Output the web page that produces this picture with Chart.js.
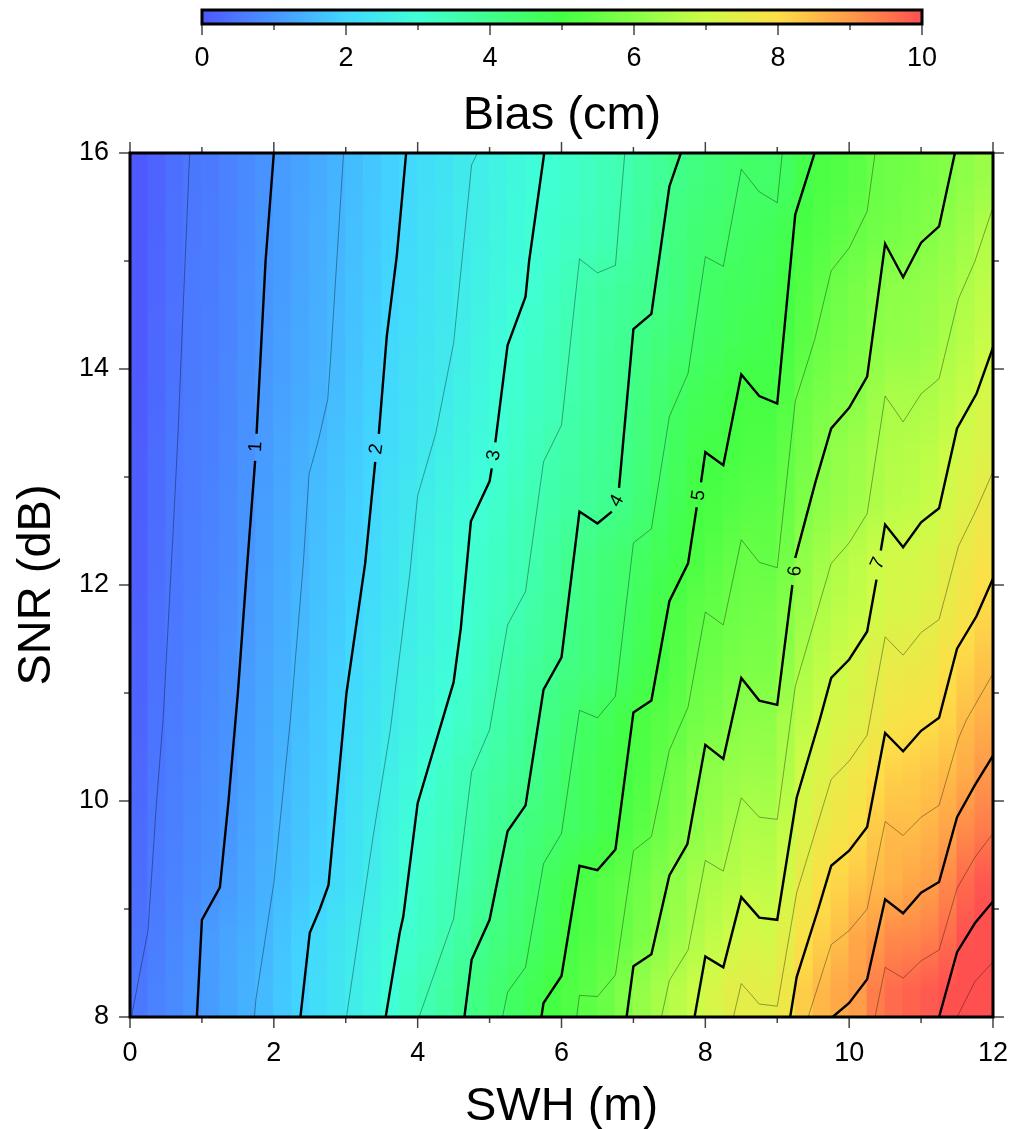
<!DOCTYPE html>
<html>
<head>
<meta charset="utf-8">
<title>Bias</title>
<script src="https://cdn.jsdelivr.net/npm/chart.js@4"></script>
<style>
  html, body { margin: 0; padding: 0; background: #fff; }
  canvas { position: absolute; left: 0; display: block; }
  #bar { top: 0; }
  #plot { top: 0; }
</style>
</head>
<body>
<canvas id="plot" width="1010" height="1129"></canvas>
<canvas id="bar" width="1010" height="140"></canvas>
<script>
// column centres (m), each cell is 0.25 wide
const swhCols = [0.125,0.375,0.625,0.875,1.125,1.375,1.625,1.875,2.125,2.375,2.625,2.875,
  3.125,3.375,3.625,3.875,4.125,4.375,4.625,4.875,5.125,5.375,5.625,5.875,
  6.125,6.375,6.625,6.875,7.125,7.375,7.625,7.875,8.125,8.375,8.625,8.875,
  9.125,9.375,9.625,9.875,10.125,10.375,10.625,10.875,11.125,11.375,11.625,11.875];

// bias (cm) per row
const row0825 = [.52,.67,.81,.96,1.11,1.26,1.41,1.57,1.77,1.96,2.15,2.35,2.55,2.78,3.0,3.25,3.48,3.7,3.93,4.16,4.39,4.6,4.8,5.0,5.18,5.35,5.56,5.9,6.18,6.45,6.71,6.97,7.2,7.42,7.48,7.45,7.7,8.25,8.56,8.8,8.97,9.4,9.63,9.75,9.87,10.01,10.41,10.7];
const row0875 = [.43,.6,.76,.92,1.08,1.23,1.35,1.49,1.7,1.91,2.1,2.29,2.47,2.67,2.9,3.1,3.27,3.47,3.7,3.96,4.2,4.35,4.54,4.78,5.03,5.18,5.33,5.54,5.8,6.07,6.32,6.58,6.8,7.02,7.18,7.1,7.4,7.87,8.2,8.47,8.8,8.98,9.23,9.25,9.36,9.62,9.97,10.2];
const row0925 = [.35,.54,.67,.8,.93,1.08,1.24,1.41,1.58,1.75,1.92,2.1,2.31,2.52,2.76,3.01,3.2,3.37,3.55,3.77,4.01,4.22,4.43,4.66,4.9,5.1,5.3,5.47,5.67,5.9,6.16,6.43,6.55,6.65,6.8,6.78,7.1,7.58,7.93,8.14,8.36,8.53,8.66,8.8,8.93,9.25,9.65,9.9];
const row0975 = [.3,.51,.65,.78,.88,1.02,1.2,1.36,1.53,1.7,1.86,2.03,2.25,2.47,2.7,2.93,3.13,3.3,3.48,3.68,3.88,4.07,4.25,4.4,4.55,4.7,4.88,5.1,5.33,5.6,5.85,6.09,6.25,6.47,6.58,6.56,6.85,7.25,7.6,7.77,7.93,8.3,8.52,8.5,8.62,8.85,9.2,9.4];
const row1025 = [.25,.48,.61,.73,.85,.97,1.14,1.31,1.47,1.65,1.81,1.98,2.18,2.38,2.59,2.8,3.0,3.2,3.4,3.58,3.74,3.88,4.05,4.28,4.5,4.66,4.83,4.99,5.16,5.43,5.71,5.97,6.1,6.23,6.32,6.3,6.58,7.07,7.3,7.55,7.75,7.97,8.2,8.25,8.38,8.52,8.75,9.05];
const row1075 = [.2,.45,.57,.69,.82,.94,1.1,1.26,1.43,1.6,1.77,1.93,2.11,2.3,2.49,2.67,2.84,3.02,3.2,3.38,3.57,3.76,3.95,4.14,4.36,4.55,4.72,4.94,5.1,5.27,5.43,5.7,5.82,6.0,6.07,6.1,6.45,6.75,7.05,7.25,7.38,7.6,7.83,7.93,7.97,8.15,8.5,8.68];
const row1125 = [.17,.42,.54,.66,.77,.9,1.06,1.22,1.39,1.55,1.71,1.87,2.05,2.23,2.42,2.59,2.74,2.89,3.06,3.27,3.48,3.64,3.8,3.96,4.12,4.25,4.38,4.57,4.8,5.03,5.26,5.51,5.6,5.75,5.85,5.83,6.1,6.55,6.78,6.97,7.2,7.43,7.58,7.62,7.7,7.93,8.15,8.4];
const row1175 = [.15,.39,.52,.63,.74,.86,1.02,1.18,1.35,1.51,1.66,1.82,1.98,2.15,2.33,2.51,2.67,2.83,3.0,3.15,3.31,3.46,3.65,3.83,4.03,4.18,4.34,4.49,4.7,4.92,5.15,5.38,5.48,5.6,5.67,5.73,5.97,6.28,6.58,6.75,6.88,7.08,7.21,7.28,7.4,7.6,7.83,8.07];
const row1225 = [.12,.36,.5,.6,.71,.83,.99,1.15,1.32,1.48,1.63,1.77,1.91,2.08,2.27,2.47,2.64,2.8,2.97,3.12,3.27,3.42,3.55,3.75,3.96,4.13,4.28,4.44,4.59,4.75,4.91,5.11,5.3,5.45,5.53,5.47,5.7,6.13,6.36,6.57,6.75,6.95,7.1,7.12,7.22,7.42,7.63,7.83];
const row1275 = [.1,.33,.5,.58,.68,.8,.96,1.12,1.28,1.44,1.6,1.73,1.87,2.02,2.22,2.4,2.58,2.73,2.87,3.02,3.17,3.32,3.47,3.6,3.72,3.84,3.94,4.1,4.33,4.55,4.78,4.99,5.07,5.2,5.3,5.33,5.52,5.87,6.1,6.24,6.4,6.55,6.72,6.77,6.9,7.13,7.35,7.6];
const row1325 = [.08,.3,.48,.57,.65,.77,.93,1.08,1.23,1.38,1.53,1.67,1.82,1.97,2.12,2.28,2.44,2.6,2.75,2.89,3.04,3.2,3.37,3.53,3.67,3.78,3.89,4.03,4.24,4.45,4.66,4.9,4.96,5.05,5.12,5.15,5.42,5.7,5.97,6.15,6.3,6.48,6.6,6.66,6.76,6.95,7.12,7.31];
const row1375 = [.05,.28,.45,.55,.63,.75,.91,1.04,1.17,1.3,1.43,1.58,1.75,1.91,2.07,2.22,2.35,2.48,2.65,2.8,2.95,3.1,3.25,3.38,3.55,3.68,3.82,3.97,4.17,4.38,4.58,4.72,4.82,4.95,5.03,4.99,5.2,5.58,5.78,5.92,6.03,6.3,6.5,6.47,6.53,6.72,6.92,7.15];
const row1425 = [.03,.25,.42,.54,.6,.73,.89,1.0,1.14,1.27,1.39,1.53,1.69,1.86,2.04,2.17,2.3,2.43,2.57,2.74,2.9,3.07,3.2,3.35,3.5,3.66,3.79,3.93,4.08,4.22,4.36,4.5,4.62,4.73,4.83,4.88,5.05,5.33,5.6,5.75,5.88,6.05,6.15,6.2,6.3,6.5,6.68,6.92];
const row1475 = [.02,.23,.41,.53,.58,.71,.86,.98,1.11,1.24,1.37,1.51,1.66,1.82,1.98,2.12,2.25,2.39,2.53,2.66,2.79,2.92,3.06,3.24,3.43,3.58,3.7,3.81,3.92,4.05,4.2,4.44,4.55,4.65,4.7,4.79,4.97,5.22,5.42,5.62,5.79,5.97,6.08,6.12,6.2,6.33,6.55,6.75];
const row1525 = [.02,.21,.39,.52,.57,.69,.83,.98,1.09,1.22,1.35,1.48,1.63,1.78,1.93,2.07,2.21,2.34,2.48,2.61,2.75,2.89,3.03,3.13,3.24,3.35,3.46,3.57,3.78,3.98,4.18,4.34,4.42,4.52,4.6,4.68,4.85,5.07,5.22,5.38,5.52,5.66,5.75,5.83,5.96,6.12,6.32,6.58];
const row1575 = [.01,.19,.37,.5,.55,.67,.81,.95,1.08,1.2,1.33,1.46,1.6,1.75,1.9,2.04,2.18,2.31,2.45,2.58,2.71,2.84,2.96,3.07,3.18,3.29,3.4,3.52,3.7,3.87,4.05,4.18,4.3,4.42,4.5,4.47,4.6,4.9,5.1,5.2,5.35,5.54,5.62,5.72,5.82,5.96,6.1,6.27];
const snrRows = [8.25,8.75,9.25,9.75,10.25,10.75,11.25,11.75,12.25,12.75,13.25,13.75,14.25,14.75,15.25,15.75];
const biasRows = [row0825,row0875,row0925,row0975,row1025,row1075,row1125,row1175,row1225,row1275,row1325,row1375,row1425,row1475,row1525,row1575];

// contours: [swh, snr], [null, null] leaves the gap around a label
const level05 = [[0.02,8],[0.25,8.8],[0.37,10],[0.46,10.75],[0.6,12.5],[0.67,13.43],[0.74,14.58],[0.83,16]];
const level10 = [[0.93,8],[1,8.9],[1.25,9.2],[1.37,10],[1.5,11],[1.62,12.1],[1.74,13.15],[null,null],[1.76,13.4],[1.885,15],[2,16]];
const level15 = [[1.73,8],[1.75,8.16],[2,9.24],[2.23,10.75],[2.41,12.2],[2.49,13.03],[2.62,13.34],[2.75,13.72],[2.79,14.1],[2.97,16]];
const level20 = [[2.37,8],[2.5,8.78],[2.64,9],[2.76,9.22],[2.87,10],[3.01,11],[3.27,12.2],[3.41,13.14],[null,null],[3.46,13.4],[3.57,14.3],[3.71,15.05],[3.84,16]];
const level25 = [[3.01,8],[3.38,9.67],[3.62,10.66],[3.89,12.1],[4,12.83],[4.25,13.4],[4.5,14.24],[4.75,15.89],[4.83,16]];
const level30 = [[3.555,8],[3.75,8.78],[3.8,8.93],[4,9.98],[4.5,11.1],[4.6,11.6],[4.74,12.59],[5,12.96],[5.03,13.08],[null,null],[5.08,13.32],[5.25,14.22],[5.5,14.67],[5.55,15],[5.76,16]];
const level35 = [[4.02,8],[4.5,8.91],[4.75,10.27],[5,10.66],[5.25,11.63],[5.5,11.94],[5.75,13.14],[6,13.48],[6.25,15.02],[6.5,14.89],[6.75,14.96],[6.88,16]];
const level40 = [[4.65,8],[4.75,8.53],[5,8.9],[5.25,9.72],[5.5,9.96],[5.75,11.03],[6,11.33],[6.25,12.68],[6.5,12.57],[6.7,12.68],[null,null],[6.8,12.9],[7,14.37],[7.25,14.51],[7.5,15.69],[7.66,16]];
const level45 = [[5.18,8],[5.25,8.23],[5.5,8.46],[5.75,9.42],[6,9.7],[6.25,10.84],[6.5,10.77],[6.75,10.97],[7,12.39],[7.25,12.52],[7.5,13.56],[7.76,13.96],[8,15.04],[8.25,14.95],[8.5,15.85],[8.75,15.64],[9,15.54],[9.07,16]];
const level50 = [[5.72,8],[5.75,8.13],[6,8.38],[6.25,9.4],[6.5,9.36],[6.75,9.55],[7,10.82],[7.25,10.93],[7.5,11.85],[7.76,12.2],[7.88,12.72],[null,null],[7.94,12.95],[8,13.23],[8.25,13.11],[8.5,13.95],[8.75,13.75],[9,13.68],[9.25,15.43],[9.52,16]];
const level55 = [[6.21,8],[6.25,8.2],[6.5,8.19],[6.75,8.39],[7,9.54],[7.25,9.67],[7.5,10.47],[7.76,10.87],[8,11.75],[8.25,11.63],[8.5,12.42],[8.75,12.21],[9,12.16],[9.25,13.7],[9.52,14.27],[9.75,14.91],[10,15.12],[10.25,15.46],[10.36,16]];
const level60 = [[6.905,8],[7,8.47],[7.25,8.58],[7.5,9.31],[7.75,9.6],[8,10.52],[8.25,10.39],[8.5,11.14],[8.75,10.93],[9,10.89],[9.21,12],[null,null],[9.25,12.25],[9.27,12.3],[9.53,12.95],[9.75,13.45],[10,13.64],[10.25,13.93],[10.5,15.16],[10.75,14.85],[11,15.17],[11.25,15.32],[11.47,16]];
const level65 = [[7.39,8],[7.5,8.34],[7.76,8.62],[8,9.45],[8.25,9.35],[8.5,10.03],[8.75,9.85],[9,9.83],[9.25,11.06],[9.75,12.2],[10,12.39],[10.25,12.66],[10.5,13.75],[10.75,13.51],[11,13.77],[11.25,13.91],[11.52,14.65],[11.75,15],[12,15.5]];
const level70 = [[7.85,8],[8,8.56],[8.25,8.46],[8.5,9.11],[8.75,8.92],[9,8.9],[9.27,10.03],[9.59,10.75],[9.75,11.14],[10,11.31],[10.25,11.57],[10.38,12.05],[null,null],[10.44,12.32],[10.5,12.56],[10.75,12.35],[11,12.58],[11.25,12.71],[11.5,13.45],[11.77,13.77],[12,14.2]];
const level75 = [[8.39,8],[8.5,8.31],[8.75,8.12],[9,8.1],[9.27,9.15],[9.75,10.2],[10,10.37],[10.25,10.61],[10.5,11.52],[10.75,11.35],[11,11.56],[11.25,11.68],[11.52,12.36],[11.77,12.7],[12,13.05]];
const level80 = [[9.18,8],[9.27,8.37],[9.57,9],[9.75,9.4],[10,9.54],[10.25,9.76],[10.5,10.63],[10.75,10.46],[11,10.65],[11.25,10.77],[11.5,11.41],[11.77,11.71],[12,12.06]];
const level85 = [[9.43,8],[9.75,8.67],[10,8.8],[10.25,9],[10.5,9.81],[10.75,9.68],[11,9.85],[11.25,9.96],[11.52,10.58],[11.63,10.75],[12,11.18]];
const level90 = [[9.77,8],[10,8.13],[10.25,8.35],[10.5,9.09],[10.75,8.96],[11,9.15],[11.25,9.25],[11.5,9.85],[11.75,10.15],[12,10.42]];
const level95 = [[10.36,8],[10.5,8.46],[10.75,8.36],[11,8.52],[11.25,8.62],[11.5,9.19],[11.75,9.48],[12,9.7]];
const level100 = [[11.25,8],[11.5,8.6],[11.75,8.87],[12,9.07]];
const level105 = [[11.5,8],[11.75,8.33],[12,8.51]];
const thickLevels = [level10,level20,level30,level40,level50,level60,level70,level80,level90,level100];
const thinLevels = [level05,level15,level25,level35,level45,level55,level65,level75,level85,level95,level105];

const labelText = ['1','2','3','4','5','6','7'];
const labelSwh = [1.75,3.43,5.06,6.77,7.91,9.25,10.4];
const labelSnr = [13.28,13.26,13.2,12.78,12.83,12.13,12.2];
const labelAngle = [-88,-82,-80,-60,-82,-85,-65];

// colour table, value -> rgb
const cptValues = [0,1,2,3,4,5,6,7,8,9,10];
const cptColors = [[78,88,255],[72,150,255],[66,215,255],[64,255,215],[64,255,140],[68,255,68],[135,255,72],[205,252,72],[254,222,72],[255,155,72],[255,80,80]];

const FONT = '"Liberation Sans", Arial, sans-serif';

function biasColor(v) {
  if (v <= 0) return `rgb(${cptColors[0].join(',')})`;
  if (v >= 10) return `rgb(${cptColors[10].join(',')})`;
  const i = Math.floor(v);
  const t = v - i;
  const c = cptColors[i].map((a, k) => Math.round(a + (cptColors[i + 1][k] - a) * t));
  return `rgb(${c.join(',')})`;
}

// frame and GMT style ticks, chart.js can only do one tick length per scale
function frameTicks(xMajor, xMinor, yMajor, yMinor, allSides) {
  return {
    id: 'frameTicks',
    afterDatasetsDraw(chart) {
      const { ctx, chartArea: a, scales } = chart;
      ctx.save();
      ctx.strokeStyle = '#444';
      ctx.lineWidth = 1.5;
      const mark = (x0, y0, x1, y1) => { ctx.beginPath(); ctx.moveTo(x0, y0); ctx.lineTo(x1, y1); ctx.stroke(); };
      const xTick = (v, len) => {
        const p = scales.x.getPixelForValue(v);
        mark(p, a.bottom, p, a.bottom + len);
        if (allSides) mark(p, a.top, p, a.top - len);
      };
      const yTick = (v, len) => {
        const p = scales.y.getPixelForValue(v);
        mark(a.left, p, a.left - len, p);
        mark(a.right, p, a.right + len, p);
      };
      xMajor.forEach(v => xTick(v, 11));
      xMinor.forEach(v => xTick(v, 6));
      yMajor.forEach(v => yTick(v, 11));
      yMinor.forEach(v => yTick(v, 6));
      ctx.strokeStyle = '#000';
      ctx.lineWidth = 3;
      ctx.strokeRect(a.left, a.top, a.right - a.left, a.bottom - a.top);
      ctx.restore();
    }
  };
}

const contourLabels = {
  id: 'contourLabels',
  afterDatasetsDraw(chart) {
    const { ctx, scales } = chart;
    ctx.save();
    ctx.fillStyle = '#000';
    ctx.font = '19px ' + FONT;
    ctx.textAlign = 'center';
    ctx.textBaseline = 'middle';
    labelText.forEach((t, i) => {
      ctx.save();
      ctx.translate(scales.x.getPixelForValue(labelSwh[i]), scales.y.getPixelForValue(labelSnr[i]));
      ctx.rotate(labelAngle[i] * Math.PI / 180);
      ctx.fillText(t, 0, 0);
      ctx.restore();
    });
    ctx.restore();
  }
};

const cells = [];
snrRows.forEach((snr, r) => {
  swhCols.forEach((swh, c) => {
    cells.push({ x: swh, y: [snr - 0.25, snr + 0.25], row: r, col: c });
  });
});

// each cell blends into the rows above and below it, the reference is not blocky in snr
function cellFill(c) {
  const cell = c.raw;
  const a = c.chart.chartArea;
  if (!cell || !a) return '#fff';
  const y = c.chart.scales.y;
  const own = biasRows[cell.row][cell.col];
  const below = cell.row > 0 ? biasRows[cell.row - 1][cell.col] : own;
  const above = cell.row < biasRows.length - 1 ? biasRows[cell.row + 1][cell.col] : own;
  const g = c.chart.ctx.createLinearGradient(0, y.getPixelForValue(cell.y[0]), 0, y.getPixelForValue(cell.y[1]));
  g.addColorStop(0, biasColor((own + below) / 2));
  g.addColorStop(0.5, biasColor(own));
  g.addColorStop(1, biasColor((own + above) / 2));
  return g;
}

const lineSet = (points, width, color) => ({
  type: 'line',
  data: points.map(p => ({ x: p[0], y: p[1] })),
  borderColor: color,
  borderWidth: width,
  pointRadius: 0,
  tension: 0,
  spanGaps: false,
  order: 1
});

new Chart(document.getElementById('plot'), {
  type: 'bar',
  data: {
    datasets: [
      {
        data: cells,
        backgroundColor: cellFill,
        borderWidth: 0,
        inflateAmount: 0.6,
        barPercentage: 1,
        categoryPercentage: 1,
        grouped: false,
        order: 10
      },
      ...thinLevels.map(l => lineSet(l, 0.6, 'rgba(0,0,0,0.6)')),
      ...thickLevels.map(l => lineSet(l, 2.4, '#000'))
    ]
  },
  options: {
    responsive: false,
    animation: false,
    layout: { padding: { left: 0, right: 17, top: 153, bottom: 0 } },
    plugins: { legend: { display: false }, tooltip: { enabled: false } },
    scales: {
      x: {
        type: 'linear',
        min: 0,
        max: 12,
        offset: false,
        afterFit: s => { s.height = 112; s.paddingLeft = 0; s.paddingRight = 0; },
        grid: { display: false, drawTicks: false },
        border: { display: false },
        ticks: { stepSize: 2, padding: 20, maxRotation: 0, color: '#000', font: { family: FONT, size: 27 } },
        title: { display: true, text: 'SWH (m)', color: '#000', padding: 0, font: { family: FONT, size: 47, lineHeight: 0.92 } }
      },
      y: {
        type: 'linear',
        min: 8,
        max: 16,
        afterFit: s => { s.width = 130; s.paddingTop = 0; s.paddingBottom = 0; },
        grid: { display: false, drawTicks: false },
        border: { display: false },
        ticks: { stepSize: 2, padding: 21, color: '#000', font: { family: FONT, size: 27 } },
        title: { display: true, text: 'SNR (dB)', color: '#000', padding: { top: 14, bottom: 0 }, font: { family: FONT, size: 47, lineHeight: 1 } }
      }
    }
  },
  plugins: [frameTicks([0,2,4,6,8,10,12], [1,3,5,7,9,11], [8,10,12,14,16], [9,11,13,15], true), contourLabels]
});

const barRange = [[0, 10]];
const barLabels = [''];

new Chart(document.getElementById('bar'), {
  type: 'bar',
  data: {
    labels: barLabels,
    datasets: [{
      data: barRange,
      borderWidth: 0,
      barPercentage: 1,
      categoryPercentage: 1,
      backgroundColor(c) {
        const a = c.chart.chartArea;
        if (!a) return '#fff';
        const g = c.chart.ctx.createLinearGradient(a.left, 0, a.right, 0);
        cptValues.forEach((v, i) => g.addColorStop(v / 10, `rgb(${cptColors[i].join(',')})`));
        return g;
      }
    }]
  },
  options: {
    indexAxis: 'y',
    responsive: false,
    animation: false,
    layout: { padding: { left: 202, right: 88, top: 10, bottom: 0 } },
    plugins: { legend: { display: false }, tooltip: { enabled: false } },
    scales: {
      x: {
        type: 'linear',
        min: 0,
        max: 10,
        afterFit: s => { s.height = 116; },
        grid: { display: false, drawTicks: false },
        border: { display: false },
        ticks: { stepSize: 2, padding: 18, maxRotation: 0, color: '#000', font: { family: FONT, size: 27 } },
        title: { display: true, text: 'Bias (cm)', color: '#000', padding: 0, font: { family: FONT, size: 47, lineHeight: 1 } }
      },
      y: { display: false }
    }
  },
  plugins: [frameTicks([0,2,4,6,8,10], [1,3,5,7,9], [], [], false)]
});
</script>
</body>
</html>
